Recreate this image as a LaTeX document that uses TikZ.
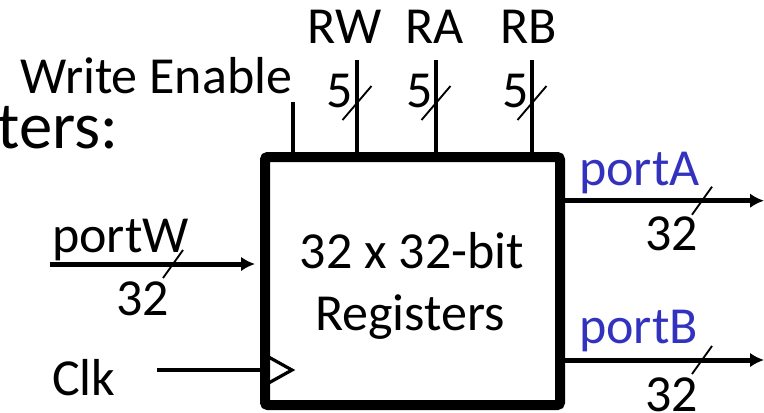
\documentclass[tikz,border=0pt]{standalone}
\usepackage{fontspec}
\setmainfont{Carlito}
\usetikzlibrary{arrows.meta,calc}
\definecolor{portblue}{RGB}{50,50,190}
\begin{document}
\begin{tikzpicture}[x=0.75pt,y=-0.75pt,
  lbl/.style={inner sep=0pt,font=\fontsize{39}{47}\selectfont},
  blbl/.style={lbl,text=portblue},
  wire/.style={line width=3.4pt},
  bus/.style={line width=3.75pt,-{Latex[length=10.5pt,width=11pt]}},
  slash/.style={line width=1.4pt},
  regbox/.style={draw,line width=7.5pt,rounded corners=2pt,minimum width=221.25pt,minimum height=186pt,inner sep=0pt}]
\useasboundingbox (0,0) rectangle (764,412);
% register box
\node[regbox] (reg) at (412.5,281) {};
\node[lbl,anchor=base] (t1) at (412,268) {32 x 32-bit};
\node[lbl,anchor=base] (t2) at (410,330) {Registers};
% cut-off title
\node[inner sep=0pt,anchor=base east,font=\fontsize{50}{60}\selectfont] (title) at (119,148) {ters:};
% top inputs
\coordinate (we) at (293,102);
\coordinate (rw) at (357,60);
\coordinate (ra) at (436,60);
\coordinate (rb) at (532,60);
\foreach \c in {we,rw,ra,rb} \draw[wire] (\c) -- (\c |- reg.north);
\foreach \c in {rw,ra,rb} \draw[slash] ($(\c)+(-14.5,60)$) -- ($(\c)+(14.5,26)$);
\node[lbl,anchor=base west] (weL) at (20,93) {Write Enable};
\node[lbl,anchor=base west] (rwL) at (307,43) {RW};
\node[lbl,anchor=base west] (raL) at (405,43) {RA};
\node[lbl,anchor=base west] (rbL) at (500,43) {RB};
\node[lbl,anchor=base west] (rw5) at (326,107) {5};
\node[lbl,anchor=base west] (ra5) at (406,107) {5};
\node[lbl,anchor=base west] (rb5) at (502,107) {5};
% portW
\coordinate (pw) at (50,264);
\draw[bus,shorten >=3.75pt] (pw) -- (pw -| reg.west);
\coordinate (sw) at (173,264);
\draw[slash] ($(sw)+(-10,14)$) -- ($(sw)+(10,-14)$);
\node[lbl,anchor=base west] (pwL) at (52,252) {portW};
\node[lbl,anchor=base west] (pw32) at (116,315) {32};
% Clk
\coordinate (ck) at (157,370);
\draw[wire] (ck) -- (ck -| reg.west);
\draw[line width=2.4pt,line join=miter] ($(ck -| reg.west)+(5,-15)$) -- ($(ck -| reg.west)+(32,0)$) -- ($(ck -| reg.west)+(5,15)$);
\node[lbl,anchor=base west] (ckL) at (52,395) {Clk};
% portA
\coordinate (pa) at (764,200.7);
\draw[bus] (pa -| reg.east) -- (pa);
\coordinate (sa) at (702,200.7);
\draw[slash] ($(sa)+(-10,14)$) -- ($(sa)+(10,-14)$);
\node[blbl,anchor=base west] (paL) at (579,185) {portA};
\node[lbl,anchor=base west] (pa32) at (645,250) {32};
% portB
\coordinate (pb) at (764,360);
\draw[bus] (pb -| reg.east) -- (pb);
\coordinate (sb) at (702,360);
\draw[slash] ($(sb)+(-10,14)$) -- ($(sb)+(10,-14)$);
\node[blbl,anchor=base west] (pbL) at (579,343) {portB};
\node[lbl,anchor=base west] (pb32) at (645,411) {32};
\end{tikzpicture}
\end{document}
